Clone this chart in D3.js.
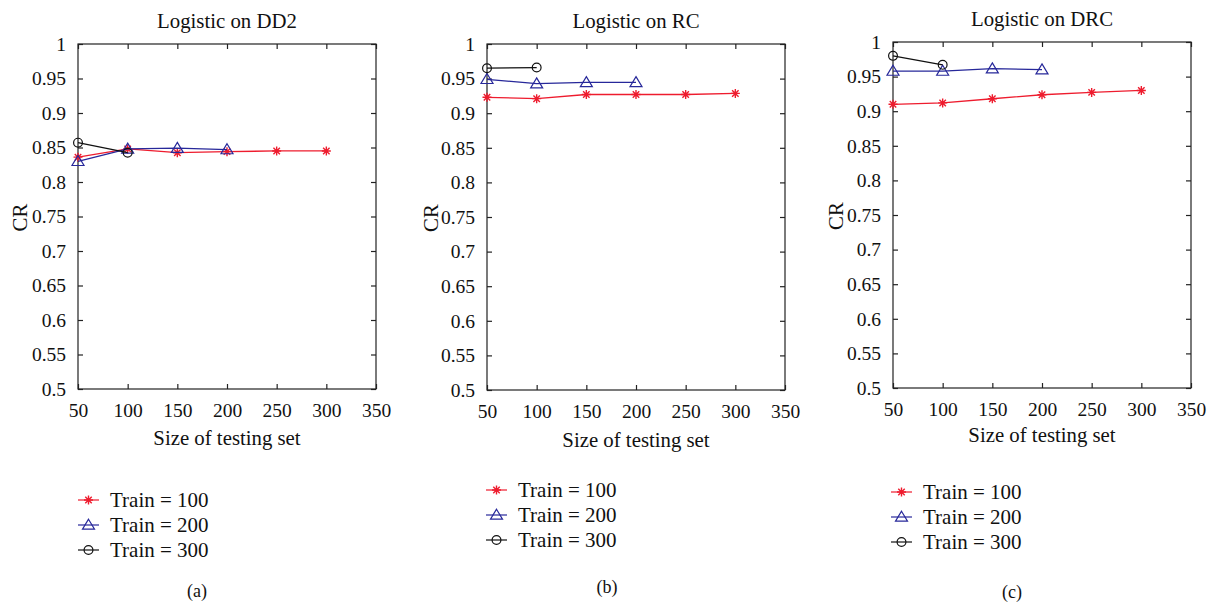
<!DOCTYPE html>
<html>
<head>
<meta charset="utf-8">
<script src="https://cdn.jsdelivr.net/npm/d3@7"></script>
<style>
  body { margin: 0; background: #fff; }
</style>
</head>
<body>
<svg id="chart" width="1210" height="603"></svg>
<script>
// values
let sizes = [50, 100, 150, 200, 250, 300]
let xTicks = [50, 100, 150, 200, 250, 300, 350]
let yTicks = [0.5, 0.55, 0.6, 0.65, 0.7, 0.75, 0.8, 0.85, 0.9, 0.95, 1]
let seriesNames = ["Train = 100", "Train = 200", "Train = 300"]
let titles = ["Logistic on DD2", "Logistic on RC", "Logistic on DRC"]
let captions = ["(a)", "(b)", "(c)"]

let dd2Train100 = [0.836, 0.848, 0.8425, 0.844, 0.845, 0.845]
let dd2Train200 = [0.830, 0.848, 0.849, 0.847]
let dd2Train300 = [0.857, 0.8425]

let rcTrain100 = [0.923, 0.921, 0.927, 0.927, 0.927, 0.9286]
let rcTrain200 = [0.949, 0.9426, 0.9445, 0.9445]
let rcTrain300 = [0.965, 0.966]

let drcTrain100 = [0.910, 0.912, 0.918, 0.9238, 0.9272, 0.930]
let drcTrain200 = [0.958, 0.958, 0.9614, 0.960]
let drcTrain300 = [0.980, 0.967]

let colors = ["#ee1c2e", "#27289a", "#111111"]
let markers = ["star", "triangle", "circle"]

let serif = "'Liberation Serif', 'Times New Roman', 'DejaVu Serif', serif"

// layout of each panel (pixels)
let panels = [
    { left: 78, right: 376, top: 44, bottom: 389, yl: 20, xlY: 445, leg: [80, 500], cap: [197, 597],
      values: [dd2Train100, dd2Train200, dd2Train300] },
    { left: 487, right: 785, top: 44, bottom: 390, yl: 431, xlY: 447, leg: [488, 490], cap: [607, 593],
      values: [rcTrain100, rcTrain200, rcTrain300] },
    { left: 893, right: 1191, top: 42, bottom: 388, yl: 836, xlY: 442, leg: [893, 492], cap: [1012, 598],
      values: [drcTrain100, drcTrain200, drcTrain300] }
]

let chart = d3.select("#chart")

function markerPath(kind) {
    if (kind == "star") {
        let r = 4.5, d = r * 0.72
        return "M" + (-r) + ",0H" + r + "M0," + (-r) + "V" + r +
            "M" + (-d) + "," + (-d) + "L" + d + "," + d +
            "M" + (-d) + "," + d + "L" + d + "," + (-d)
    }
    if (kind == "triangle") {
        return "M0,-5.8L6,4.2L-6,4.2Z"
    }
    return d3.arc()({ innerRadius: 0, outerRadius: 4.4, startAngle: 0, endAngle: 2 * Math.PI })
}

function drawMarker(g, kind, color, x, y) {
    g.append("path")
        .attr("d", markerPath(kind))
        .attr("transform", "translate(" + x + "," + y + ")")
        .attr("fill", "none")
        .attr("stroke", color)
        .attr("stroke-width", kind == "star" ? 1.4 : 1.2)
}

panels.forEach(function (p, i) {
    let g = chart.append("g")

    let xscale = d3.scaleLinear().domain([50, 350]).range([p.left, p.right])
    let yscale = d3.scaleLinear().domain([0.5, 1]).range([p.bottom, p.top])

    // box
    g.append("rect")
        .attr("x", p.left).attr("y", p.top)
        .attr("width", p.right - p.left).attr("height", p.bottom - p.top)
        .attr("fill", "none").attr("stroke", "#222").attr("stroke-width", 1.2)

    // inward ticks on all four sides
    let fmt = d => d3.format("")(d)
    let ax = [
        g.append("g").attr("transform", "translate(0," + p.bottom + ")")
            .call(d3.axisBottom(xscale).tickValues(xTicks).tickSizeInner(-5).tickSizeOuter(0).tickPadding(14).tickFormat(fmt)),
        g.append("g").attr("transform", "translate(0," + p.top + ")")
            .call(d3.axisTop(xscale).tickValues(xTicks).tickSizeInner(-5).tickSizeOuter(0).tickFormat("")),
        g.append("g").attr("transform", "translate(" + p.left + ",0)")
            .call(d3.axisLeft(yscale).tickValues(yTicks).tickSizeInner(-5).tickSizeOuter(0).tickPadding(12).tickFormat(fmt)),
        g.append("g").attr("transform", "translate(" + p.right + ",0)")
            .call(d3.axisRight(yscale).tickValues(yTicks).tickSizeInner(-5).tickSizeOuter(0).tickFormat(""))
    ]
    ax.forEach(function (a) {
        a.attr("font-family", serif).attr("font-size", 19.5)
        a.select(".domain").remove()
        a.selectAll("line").attr("stroke", "#222").attr("stroke-width", 1.2)
        a.selectAll("text").attr("fill", "#111")
    })

    // title and axis labels
    let cx = (p.left + p.right) / 2
    g.append("text").attr("x", cx).attr("y", p.top - 16)
        .attr("text-anchor", "middle").attr("font-size", 20.8).text(titles[i])
    g.append("text").attr("x", cx).attr("y", p.xlY)
        .attr("text-anchor", "middle").attr("font-size", 20.8).text("Size of testing set")
    g.append("text")
        .attr("transform", "translate(" + (p.yl + 7) + "," + ((p.top + p.bottom) / 2 + 1) + ") rotate(-90)")
        .attr("text-anchor", "middle").attr("font-size", 20.8).text("CR")

    // series
    p.values.forEach(function (vals, s) {
        let pts = vals.map((v, k) => [sizes[k], v])
        g.append("path")
            .attr("d", d3.line().x(d => xscale(d[0])).y(d => yscale(d[1]))(pts))
            .attr("fill", "none").attr("stroke", colors[s]).attr("stroke-width", 1.3)
        pts.forEach(function (d) {
            drawMarker(g, markers[s], colors[s], xscale(d[0]), yscale(d[1]))
        })
    })

    // legend
    seriesNames.forEach(function (name, s) {
        let ly = p.leg[1] + s * 25
        g.append("line")
            .attr("x1", p.leg[0] - 2).attr("x2", p.leg[0] + 19)
            .attr("y1", ly).attr("y2", ly)
            .attr("stroke", colors[s]).attr("stroke-width", 1.2)
        drawMarker(g, markers[s], colors[s], p.leg[0] + 8.5, ly)
        g.append("text").attr("x", p.leg[0] + 30).attr("y", ly + 7)
            .attr("font-size", 21).text(name)
    })

    g.append("text").attr("x", p.cap[0]).attr("y", p.cap[1])
        .attr("text-anchor", "middle").attr("font-size", 18).text(captions[i])
})

chart.selectAll("text").style("font-family", serif).style("fill", "#111")
</script>
</body>
</html>
